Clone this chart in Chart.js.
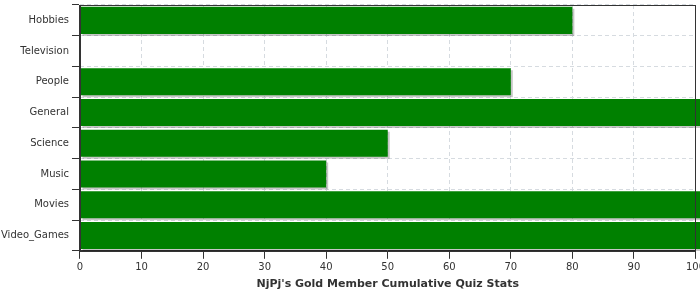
<!DOCTYPE html>
<html>
<head>
<meta charset="utf-8">
<script src="https://cdn.jsdelivr.net/npm/chart.js@4.4.0/dist/chart.umd.min.js"></script>
<style>
    html, body { margin: 0; padding: 0; background: #fff; overflow: hidden; }
    #wrap { width: 708px; height: 304px; margin-top: -4px; position: relative; }
</style>
</head>
<body>
<div id="wrap"><canvas id="quizChart"></canvas></div>
<script>
const categories = ['Hobbies', 'Television', 'People', 'General', 'Science', 'Music', 'Movies', 'Video_Games'];
const scores = [80, 0, 70, 110, 50, 40, 110, 110];
const xTicks = [0, 10, 20, 30, 40, 50, 60, 70, 80, 90, 100];

Chart.defaults.font.family = '"DejaVu Sans", sans-serif';
Chart.defaults.font.size = 10;
Chart.defaults.color = '#333';

// gray drop shadow under the bars
const barShadow = {
    id: 'barShadow',
    beforeDatasetDraw(chart) {
        const ctx = chart.ctx;
        ctx.save();
        ctx.shadowColor = 'rgba(0,0,0,0.22)';
        ctx.shadowOffsetX = 2;
        ctx.shadowOffsetY = 2;
        ctx.shadowBlur = 0;
    },
    afterDatasetDraw(chart) {
        chart.ctx.restore();
    }
};

// dark frame round the plot area
const plotFrame = {
    id: 'plotFrame',
    afterDatasetsDraw(chart) {
        const { ctx, chartArea: a } = chart;
        ctx.save();
        ctx.strokeStyle = '#333';
        ctx.lineWidth = 1;
        ctx.strokeRect(Math.round(a.left) + 0.5, Math.round(a.top) + 0.5,
            Math.round(a.right - a.left), Math.round(a.bottom - a.top));
        ctx.restore();
    }
};

new Chart('quizChart', {
    type: 'bar',
    data: {
        labels: categories,
        datasets: [{
            data: scores,
            backgroundColor: '#008000',
            borderWidth: 0,
            barPercentage: 0.88,
            categoryPercentage: 1,
            clip: false
        }]
    },
    options: {
        indexAxis: 'y',
        responsive: true,
        maintainAspectRatio: false,
        animation: false,
        layout: { padding: { top: 0, left: -2, right: 0, bottom: 0 } },
        plugins: {
            legend: { display: false },
            tooltip: { enabled: false },
            title: {
                display: true,
                position: 'bottom',
                fullSize: false,
                text: "NjPj's Gold Member Cumulative Quiz Stats",
                color: '#333',
                font: { size: 11, weight: 'bold' },
                padding: { top: 1, bottom: 9 }
            }
        },
        scales: {
            x: {
                min: 0,
                max: 100,
                afterBuildTicks: axis => { axis.ticks = xTicks.map(v => ({ value: v })); },
                grid: {
                    color: '#d6dbe0',
                    tickColor: '#333',
                    tickLength: 8,
                    tickBorderDash: []
                },
                border: { color: '#333', dash: [4, 3] },
                ticks: { padding: 3 }
            },
            y: {
                grid: {
                    color: '#d6dbe0',
                    tickColor: '#333',
                    tickLength: 8,
                    tickBorderDash: []
                },
                border: { color: '#333', dash: [4, 3] },
                ticks: { padding: 3 }
            }
        }
    },
    plugins: [barShadow, plotFrame]
});
</script>
</body>
</html>
